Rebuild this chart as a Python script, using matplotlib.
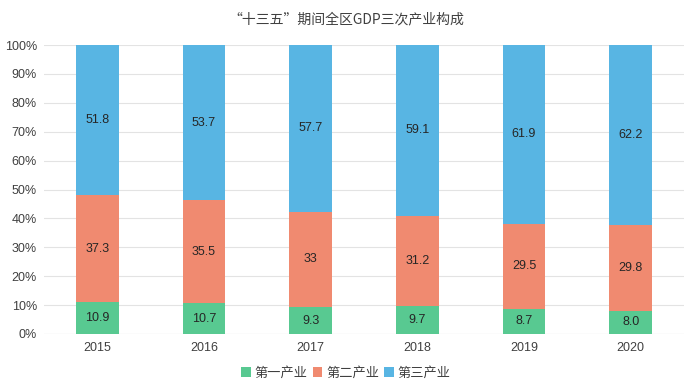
import numpy as np
import matplotlib
matplotlib.use('Agg')
import matplotlib.pyplot as plt
from matplotlib.patches import Patch

plt.rcParams['font.family'] = ['Liberation Sans', 'Noto Sans CJK SC', 'DejaVu Sans']

years = ['2015', '2016', '2017', '2018', '2019', '2020']
primary = [10.9, 10.7, 9.3, 9.7, 8.7, 8.0]
secondary = [37.3, 35.5, 33, 31.2, 29.5, 29.8]
tertiary = [51.8, 53.7, 57.7, 59.1, 61.9, 62.2]
labels_p = ['10.9', '10.7', '9.3', '9.7', '8.7', '8.0']
labels_s = ['37.3', '35.5', '33', '31.2', '29.5', '29.8']
labels_t = ['51.8', '53.7', '57.7', '59.1', '61.9', '62.2']
names = ['第一产业', '第二产业', '第三产业']
colors = ['#58C991', '#F08A70', '#58B5E3']

p = np.array(primary); s = np.array(secondary); t = np.array(tertiary)
tot = p + s + t
p, s, t = p / tot, s / tot, t / tot

fig = plt.figure(figsize=(6.92, 3.89), dpi=100)
ax = fig.add_axes([44/692, 1-334/389, 640/692, 289/389])
x = np.arange(len(years))
w = 0.4
ax.bar(x, p, w, color=colors[0], zorder=3)
ax.bar(x, s, w, bottom=p, color=colors[1], zorder=3)
ax.bar(x, t, w, bottom=p+s, color=colors[2], zorder=3)

for i in range(len(years)):
    ax.text(x[i], p[i]/2, labels_p[i], ha='center', va='center', fontsize=9, color='#262626', zorder=4)
    ax.text(x[i], p[i]+s[i]/2, labels_s[i], ha='center', va='center', fontsize=9, color='#262626', zorder=4)
    ax.text(x[i], p[i]+s[i]+t[i]/2, labels_t[i], ha='center', va='center', fontsize=9, color='#262626', zorder=4)

ax.set_xlim(-0.5, len(years)-0.5)
ax.set_ylim(0, 1)
ax.set_yticks(np.arange(0, 1.01, 0.1))
ax.set_yticklabels(['%d%%' % v for v in range(0, 101, 10)])
ax.set_xticks(x)
ax.set_xticklabels(years)
ax.tick_params(length=0, labelsize=9, colors='#404040')
ax.tick_params(axis='y', pad=5)
ax.tick_params(axis='x', pad=6)
ax.yaxis.grid(True, color='#E3E3E3', lw=0.8, zorder=0)
for sp in ax.spines.values():
    sp.set_visible(False)
ax.axhline(0, color='#D9D9D9', lw=0.8, zorder=2)

fig.text(0.5, 1-19/389, '“十三五”期间全区GDP三次产业构成', ha='center', va='center', fontsize=10,
         color='#404040', family=['Noto Sans CJK SC', 'DejaVu Sans'])

handles = [Patch(facecolor=c) for c in colors]
fig.legend(handles, names, loc='center', bbox_to_anchor=(0.5, 1-373/389), ncol=3, frameon=False,
           handlelength=0.7, handleheight=0.7, handletextpad=0.3, columnspacing=0.4,
           labelcolor='#404040', prop={'family': ['Noto Sans CJK SC'], 'size': 9.5})

fig.savefig('out.png', dpi=100)
